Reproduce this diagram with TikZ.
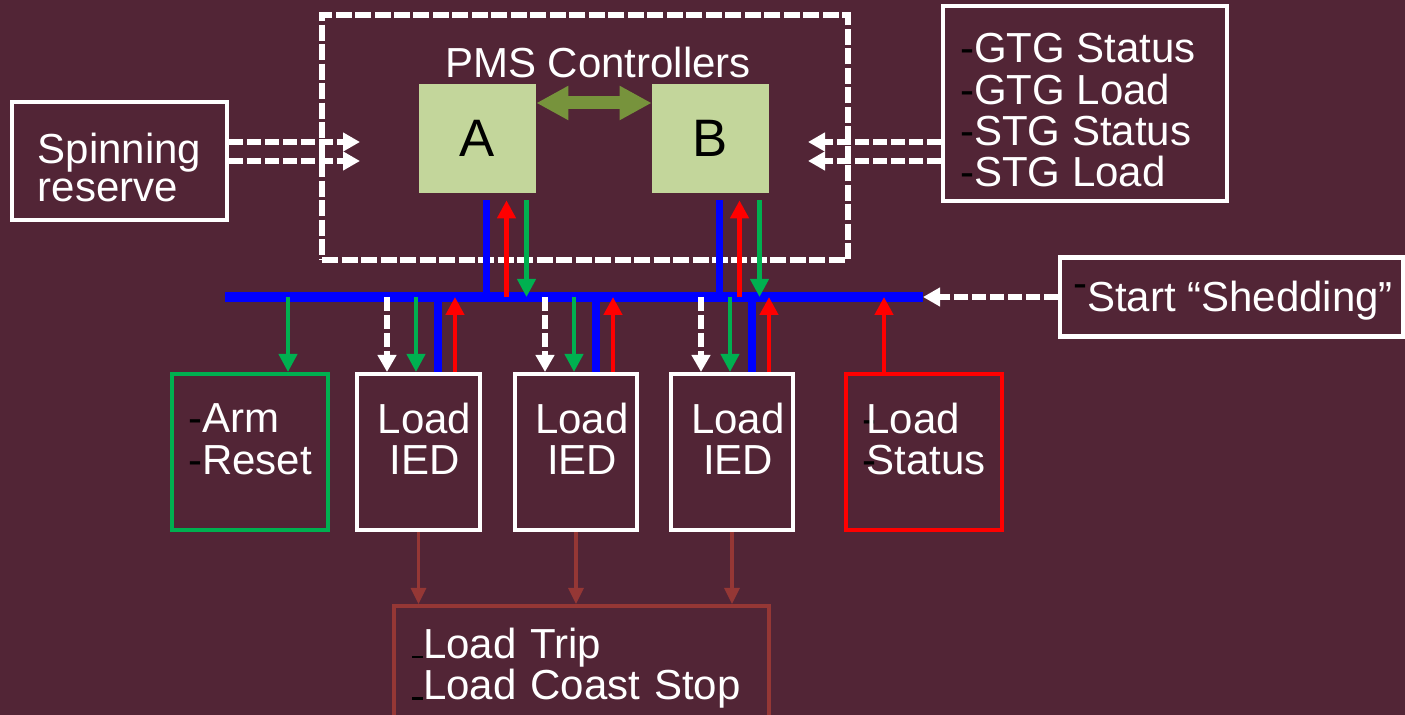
\documentclass[tikz,border=0pt]{standalone}
\usepackage{fontspec}
\setmainfont{Liberation Sans}
\usetikzlibrary{arrows.meta,positioning,calc}

\definecolor{bgmaroon}{RGB}{82,37,54}
\definecolor{ctrlfill}{RGB}{195,214,155}
\definecolor{olivearrow}{RGB}{119,147,60}
\definecolor{sigreen}{RGB}{0,176,80}
\definecolor{tripbrown}{RGB}{149,55,53}

\newcommand{\bdash}{\textcolor{black}{-}}
\newcommand{\blow}{\textcolor{black}{\rule{0.22cm}{0.05cm}}}

\begin{document}
\begin{tikzpicture}[
        x=0.02cm, y=-0.02cm,
        every node/.style={align=center, text=white, inner sep=0pt,
            font=\fontsize{23.9}{23.5}\selectfont},
        box/.style={draw=white, line width=2.3pt},
        lowbox/.style={box, minimum height=3.12cm, text depth=0.52cm},
        ctrl/.style={fill=ctrlfill, text=black, minimum width=2.34cm,
            minimum height=2.18cm, font=\fontsize{30}{30}\selectfont},
        bus/.style={blue, line width=5.7pt},
        tap/.style={blue, line width=4pt},
        wdash/.style={white, line width=3.4pt,
            dash pattern=on 0.28cm off 0.08cm,
            -{Triangle[width=0.36cm,length=0.34cm]}},
        redarrow/.style={red, line width=2.5pt,
            -{Triangle[width=0.36cm,length=0.36cm]}},
        grnarrow/.style={sigreen, line width=2.3pt,
            -{Triangle[width=0.36cm,length=0.36cm]}},
        brnarrow/.style={tripbrown, line width=1.8pt,
            -{Triangle[width=0.3cm,length=0.32cm]}},
        dblarrow/.style={olivearrow, line width=7.4pt,
            {Triangle[width=0.64cm,length=0.64cm]}-{Triangle[width=0.64cm,length=0.64cm]}}
    ]
    \useasboundingbox (0,0) rectangle (1405,715);
    \clip (0,0) rectangle (1405,715);
    \fill[bgmaroon] (0,0) rectangle (1405,715);

    % PMS controller area
    \node[draw=white, line width=3.8pt, dash pattern=on 0.32cm off 0.07cm,
        minimum width=10.52cm, minimum height=4.9cm] (pms) at (585,137.5) {};
    \node (pmstitle) at (598,62) {PMS Controllers};
    \node[ctrl] (A) at (477.5,138.5) {A};
    \node[ctrl] (B) at (710.5,138.5) {B};
    \draw[dblarrow] ($(A.east)+(0,-35.5)$) -- ($(B.west)+(0,-35.5)$);

    % Inputs to the controllers
    \node[box, minimum width=4.3cm, minimum height=2.36cm, align=left,
        text height=1.64cm, font=\fontsize{23.9}{22}\selectfont] (spin) at (119.5,161) {Spinning\\reserve};
    \node[box, minimum width=5.68cm, minimum height=3.9cm, align=left,
        text height=3.34cm] (gen) at (1085,103.5)
        {\bdash GTG Status\hspace*{0.28cm}\\\bdash GTG Load\\\bdash STG Status\\\bdash STG Load};
    \node[box, minimum width=6.86cm, minimum height=1.58cm,
        text height=0.78cm, text depth=0.18cm] (shed) at (1231.5,297)
        {\hspace*{0.06cm}\raisebox{0.28cm}{\bdash}Start “Shedding”};

    \coordinate (spinin1) at (360,142);
    \coordinate (spinin2) at (360,161);
    \coordinate (genin1) at (808,142);
    \coordinate (genin2) at (808,161);
    \draw[wdash] (spin.east |- spinin1) -- (spinin1);
    \draw[wdash] (spin.east |- spinin2) -- (spinin2);
    \draw[wdash] (gen.west |- genin1) -- (genin1);
    \draw[wdash] (gen.west |- genin2) -- (genin2);

    % Communication bus
    \coordinate (busW) at (225,297);
    \coordinate (busE) at (923,297);
    \draw[bus] (busW) -- (busE);
    \draw[wdash] (shed.west) -- (busE);

    \foreach \c in {A,B} {
        \coordinate (\c-b) at ($(\c.south)+(9,7)$);
        \coordinate (\c-r) at ($(\c.south)+(29,7)$);
        \coordinate (\c-g) at ($(\c.south)+(49,7)$);
        \draw[tap] (\c-b) -- (\c-b |- busW);
        \draw[redarrow] (\c-r |- busW) -- (\c-r);
        \draw[grnarrow] (\c-g) -- (\c-g |- busW);
    }

    % Field devices
    \node[lowbox, draw=sigreen, minimum width=3.12cm, align=left] (arm) at (250,452)
        {\bdash Arm\\\bdash Reset};
    \node[lowbox, minimum width=2.46cm] (ied1) at (418.5,452)
        {\hspace*{0.24cm}Load\\\hspace*{0.24cm}IED};
    \node[lowbox, minimum width=2.44cm] (ied2) at (576,452)
        {\hspace*{0.24cm}Load\\\hspace*{0.24cm}IED};
    \node[lowbox, minimum width=2.44cm] (ied3) at (732,452)
        {\hspace*{0.24cm}Load\\\hspace*{0.24cm}IED};
    \node[lowbox, draw=red, minimum width=3.12cm, align=left] (status) at (924,452)
        {\bdash\kern-0.2cm Load\\\bdash\kern-0.2cm Status};
    \node[box, draw=tripbrown, minimum width=7.5cm, minimum height=2.48cm, align=left,
        text width=6.78cm] (trip) at (581.5,668) {\blow Load Trip\\\blow Load Coast Stop};

    \coordinate (arm-g) at ($(arm.north)+(38,0)$);
    \draw[grnarrow] (arm-g |- busW) -- (arm-g);
    \coordinate (status-r) at ($(status.north)+(-40,0)$);
    \draw[redarrow] (status-r) -- (status-r |- busW);

    \foreach \n in {1,2,3} {
        \coordinate (ied\n-w) at ($(ied\n.north west)+(32,0)$);
        \coordinate (ied\n-g) at ($(ied\n.north west)+(61,0)$);
        \coordinate (ied\n-b) at ($(ied\n.north west)+(83,0)$);
        \coordinate (ied\n-r) at ($(ied\n.north west)+(100,0)$);
        \draw[wdash] (ied\n-w |- busW) -- (ied\n-w);
        \draw[grnarrow] (ied\n-g |- busW) -- (ied\n-g);
        \draw[tap] (ied\n-b |- busW) -- (ied\n-b);
        \draw[redarrow] (ied\n-r) -- (ied\n-r |- busW);
        \draw[brnarrow] (ied\n.south) -- (ied\n.south |- trip.north);
    }
\end{tikzpicture}
\end{document}
